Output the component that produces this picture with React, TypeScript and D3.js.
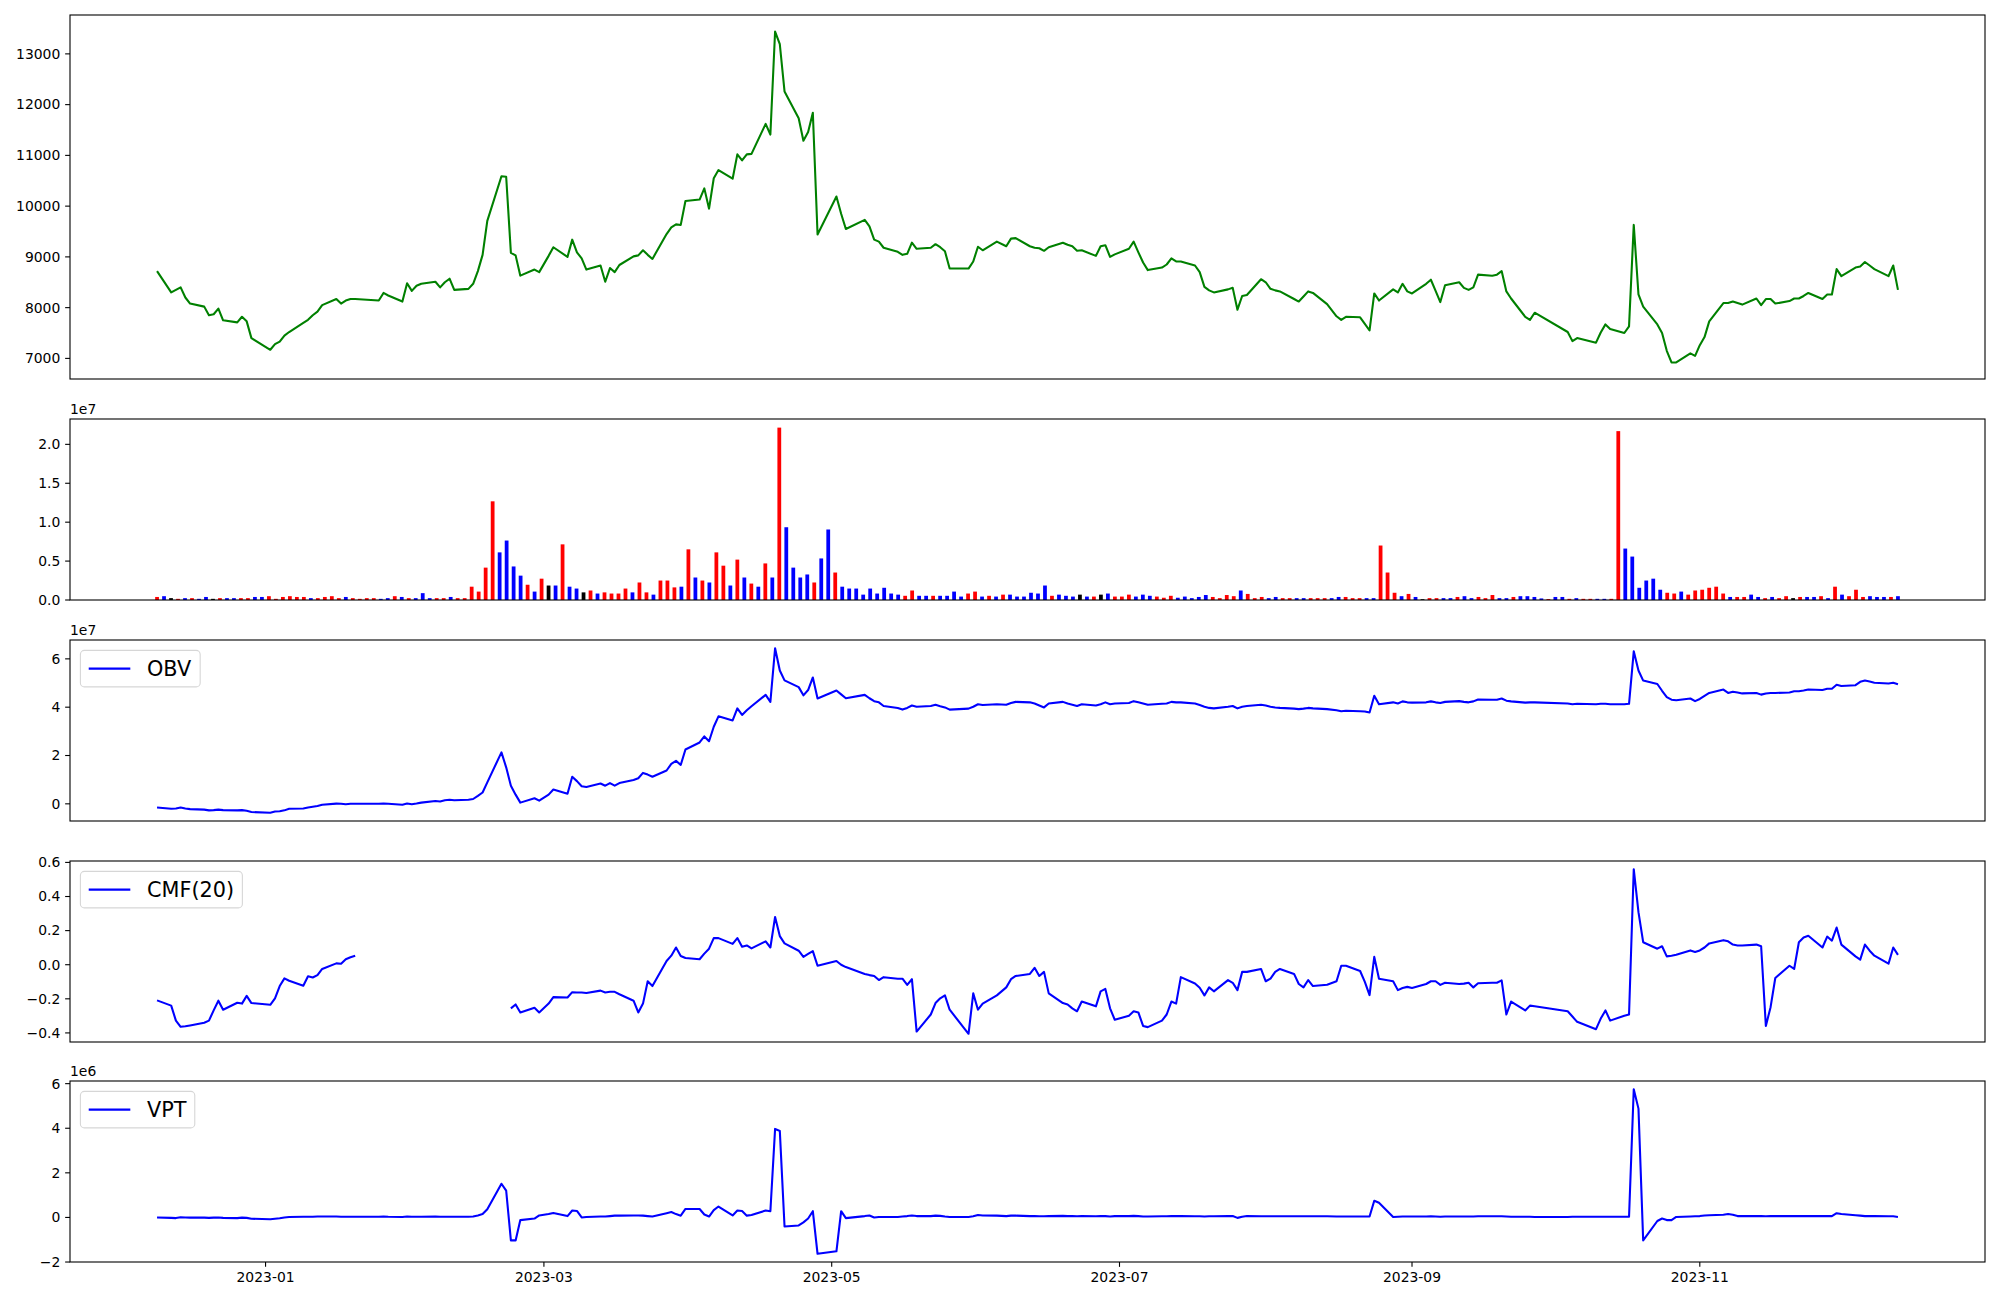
import React from 'react';
import * as d3 from 'd3';

// ---------- DATA ----------
const TRADING_DAYS: [string, number[]][] = [
  ['2022-12', [9, 12, 13, 14, 15, 16, 19, 20, 21, 22, 23, 26, 27, 28, 29]],
  ['2023-01', [2, 3, 4, 5, 6, 9, 10, 11, 12, 13, 16, 17, 18, 19, 20, 25, 26, 27, 30, 31]],
  ['2023-02', [1, 2, 3, 6, 7, 8, 9, 10, 13, 14, 15, 16, 17, 20, 21, 22, 23, 24, 27, 28]],
  ['2023-03', [2, 3, 6, 7, 8, 9, 10, 13, 14, 15, 16, 17, 20, 21, 22, 23, 24, 27, 28, 29, 30, 31]],
  ['2023-04', [3, 4, 5, 6, 7, 10, 11, 12, 13, 14, 17, 18, 19, 20, 21, 24, 25, 26, 27, 28]],
  ['2023-05', [2, 3, 4, 8, 9, 10, 11, 12, 15, 16, 17, 18, 19, 22, 23, 24, 25, 26, 30, 31]],
  ['2023-06', [1, 2, 5, 7, 8, 9, 12, 13, 14, 15, 16, 19, 20, 21, 22, 23, 26, 27, 28, 29, 30]],
  ['2023-07', [3, 4, 5, 6, 7, 10, 11, 12, 13, 14, 17, 18, 19, 20, 21, 24, 25, 26, 27, 28, 31]],
  ['2023-08', [1, 2, 3, 4, 7, 8, 9, 10, 11, 14, 16, 17, 18, 21, 22, 23, 24, 25, 28, 29, 30, 31]],
  ['2023-09', [1, 4, 5, 6, 7, 8, 11, 12, 13, 14, 15, 18, 19, 20, 21, 22, 25, 26, 27]],
  ['2023-10', [4, 5, 6, 10, 11, 12, 13, 16, 17, 18, 19, 20, 23, 24, 25, 26, 27, 30, 31]],
  ['2023-11', [1, 2, 3, 6, 7, 8, 9, 10, 13, 14, 15, 16, 17, 20, 21, 22, 23, 24, 27, 28, 29, 30]],
  ['2023-12', [1, 4, 5, 6, 7, 8, 11, 12, 13]],
];

const CLOSE: number[] = [
  8720, 8300, 8350, 8400, 8200, 8080, 8020, 7850, 7870, 7980, 7750, 7710, 7820, 7730, 7400,
  7170, 7280, 7330, 7450, 7520, 7700, 7760, 7850, 7920, 8050, 8170, 8080, 8140, 8170, 8170, 8140, 8290, 8240, 8120, 8480,
  8330, 8430, 8470, 8510, 8400, 8500, 8570, 8350, 8370, 8470, 8720, 9040, 9710, 10590, 10580, 9080, 9030, 8630, 8750, 8700,
  9020, 9190, 9000, 9340, 9090, 8970, 8750, 8830, 8510, 8780, 8700, 8840, 9010, 9030, 9130, 9040, 8960, 9450, 9580, 9640, 9630, 10100,
  10130, 10350, 9950, 10550, 10710, 10540, 11020, 10900, 11020, 11030, 11620, 11410, 13440, 13190, 12260, 11730, 11290, 11460, 11840, 9440,
  10190, 9850, 9550, 9730, 9600, 9340, 9300, 9180, 9100, 9040, 9060, 9280, 9160, 9180, 9250, 9190, 9110, 8770, 8770, 8910,
  9200, 9130, 9300, 9210, 9360, 9370, 9210, 9180, 9170, 9120, 9190, 9280, 9240, 9210, 9120, 9130, 9020, 9210, 9230, 9000, 9050,
  9160, 9300, 9090, 8890, 8740, 8790, 8850, 8970, 8910, 8910, 8830, 8700, 8410, 8340, 8300, 8360, 8390, 7960, 8230, 8250, 8560,
  8500, 8370, 8340, 8320, 8170, 8120, 8220, 8320, 8290, 8070, 7830, 7760, 7820, 7810, 7680, 7550, 8280, 8140, 8360, 8300, 8470, 8320,
  8280, 8470, 8550, 8330, 8110, 8440, 8500, 8390, 8350, 8400, 8650, 8630, 8650, 8720, 8320, 8180, 7820, 7760, 7900,
  7520, 7340, 7400, 7310, 7510, 7670, 7580, 7500, 7630, 9630, 8260, 8020, 7670, 7500, 7150, 6920, 6920, 7100, 7050,
  7260, 7420, 7730, 8090, 8090, 8120, 8090, 8060, 8180, 8050, 8170, 8170, 8080, 8130, 8180, 8180, 8230, 8290, 8170, 8260, 8260, 8760,
  8620, 8790, 8810, 8900, 8830, 8760, 8620, 8830, 8350,
];

// volume in millions of shares
const VOLUME_M: number[] = [
  0.39, 0.49, 0.24, 0.15, 0.24, 0.24, 0.15, 0.39, 0.15, 0.24, 0.24, 0.24, 0.24, 0.24, 0.39,
  0.39, 0.49, 0.15, 0.39, 0.49, 0.39, 0.39, 0.24, 0.24, 0.39, 0.49, 0.24, 0.39, 0.24, 0.15, 0.24, 0.24, 0.15, 0.24, 0.49,
  0.39, 0.24, 0.24, 0.88, 0.24, 0.24, 0.24, 0.39, 0.24, 0.24, 1.71, 1.08, 4.16, 12.68, 6.12, 7.64, 4.31, 3.13, 1.96, 1.08,
  2.74, 1.86, 1.86, 7.15, 1.71, 1.47, 0.98, 1.22, 0.83, 0.98, 0.83, 0.83, 1.47, 0.98, 2.25, 0.98, 0.69, 2.5, 2.5, 1.62, 1.71, 6.51,
  2.89, 2.5, 2.25, 6.12, 4.41, 1.86, 5.19, 2.89, 2.11, 1.71, 4.7, 2.89, 22.15, 9.35, 4.16, 2.89, 3.28, 2.25, 5.34, 9.06,
  3.53, 1.71, 1.47, 1.47, 0.69, 1.47, 0.83, 1.57, 0.83, 0.69, 0.54, 1.22, 0.54, 0.54, 0.54, 0.54, 0.54, 1.08, 0.44, 0.83,
  1.08, 0.44, 0.54, 0.44, 0.69, 0.69, 0.44, 0.44, 0.93, 0.83, 1.86, 0.54, 0.69, 0.54, 0.44, 0.69, 0.44, 0.44, 0.69, 0.83, 0.44,
  0.44, 0.69, 0.44, 0.69, 0.54, 0.44, 0.29, 0.54, 0.29, 0.44, 0.24, 0.39, 0.64, 0.39, 0.24, 0.64, 0.49, 1.22, 0.78, 0.24, 0.39,
  0.24, 0.39, 0.24, 0.24, 0.24, 0.24, 0.24, 0.24, 0.24, 0.24, 0.39, 0.39, 0.24, 0.24, 0.24, 0.24, 7.0, 3.53, 0.93, 0.49, 0.78, 0.39,
  0.1, 0.24, 0.24, 0.24, 0.24, 0.39, 0.49, 0.24, 0.39, 0.24, 0.64, 0.24, 0.24, 0.39, 0.49, 0.49, 0.39, 0.2, 0.12,
  0.39, 0.39, 0.15, 0.24, 0.15, 0.15, 0.15, 0.15, 0.15, 21.7, 6.61, 5.58, 1.57, 2.5, 2.74, 1.32, 0.93, 0.83, 1.08,
  0.69, 1.22, 1.32, 1.57, 1.71, 0.83, 0.39, 0.39, 0.39, 0.69, 0.39, 0.24, 0.39, 0.24, 0.49, 0.24, 0.39, 0.39, 0.39, 0.49, 0.24, 1.71,
  0.69, 0.49, 1.32, 0.39, 0.49, 0.39, 0.39, 0.39, 0.49,
];

// bar colour per day: r = up, b = down, k = unchanged
const VOLUME_DIR: string =
  'rbkrbrbbkrbbrrb' +
  'brrrrrrbrrrrbrrrrbbr' +
  'brbbbrrbrrrrrrbbbbrb' +
  'rkbrbbkrbrrrrbrrbrrrbr' +
  'brbrrbrbrbrbrbbbbrbb' +
  'rbbbbbbbbbrrbbrbbbbr' +
  'rbrbrbbbbbbrbbbkbrkbr' +
  'rrbbbrrrbbbbbrrrrbrrr' +
  'bbrrbbrrrbbrrrbbrrrbrb' +
  'krrbbrbbrrrbbrbbbbr' +
  'bbrbrrbbrrbbbbbbrrb' +
  'rrrrrrbrrbbrbrrkrbbrbr' +
  'brrrbbbrb';

// OBV in units of 1e7
const OBV_E7: number[] = [
  -0.15, -0.2, -0.19, -0.15, -0.19, -0.22, -0.24, -0.27, -0.26, -0.24, -0.26, -0.27, -0.26, -0.29, -0.34,
  -0.37, -0.32, -0.31, -0.27, -0.2, -0.19, -0.15, -0.12, -0.09, -0.04, 0.01, 0.0, -0.02, 0.0, 0.0, 0.0, 0.01, 0.0, -0.04, 0.01,
  -0.02, 0.01, 0.05, 0.12, 0.1, 0.15, 0.17, 0.15, 0.17, 0.2, 0.33, 0.47, 0.89, 2.13, 1.51, 0.75, 0.38, 0.05, 0.23, 0.13,
  0.38, 0.59, 0.42, 1.12, 0.94, 0.73, 0.7, 0.84, 0.75, 0.86, 0.75, 0.86, 0.99, 1.06, 1.28, 1.21, 1.12, 1.38, 1.65, 1.78, 1.61, 2.25,
  2.54, 2.79, 2.59, 3.19, 3.62, 3.45, 3.95, 3.68, 3.87, 4.04, 4.51, 4.22, 6.44, 5.52, 5.11, 4.83, 4.49, 4.71, 5.23, 4.36,
  4.69, 4.53, 4.37, 4.51, 4.37, 4.25, 4.2, 4.05, 3.97, 3.9, 3.97, 4.07, 4.02, 4.05, 4.1, 4.04, 3.99, 3.9, 3.94, 4.02,
  4.12, 4.09, 4.12, 4.1, 4.17, 4.22, 4.2, 4.15, 4.07, 3.99, 4.15, 4.22, 4.15, 4.1, 4.05, 4.12, 4.07, 4.12, 4.2, 4.12, 4.15,
  4.17, 4.25, 4.2, 4.15, 4.1, 4.14, 4.15, 4.22, 4.2, 4.2, 4.15, 4.09, 4.02, 3.97, 3.95, 4.02, 4.05, 3.95, 4.02, 4.05, 4.1,
  4.07, 4.02, 3.99, 3.97, 3.94, 3.92, 3.94, 3.97, 3.95, 3.92, 3.87, 3.83, 3.85, 3.83, 3.82, 3.78, 4.47, 4.12, 4.2, 4.15, 4.24, 4.2,
  4.19, 4.2, 4.24, 4.2, 4.17, 4.22, 4.25, 4.22, 4.2, 4.24, 4.32, 4.31, 4.31, 4.36, 4.27, 4.24, 4.19, 4.2, 4.2,
  4.15, 4.12, 4.14, 4.12, 4.14, 4.14, 4.12, 4.12, 4.14, 6.31, 5.52, 5.1, 4.96, 4.68, 4.42, 4.31, 4.29, 4.36, 4.25,
  4.34, 4.47, 4.59, 4.73, 4.59, 4.64, 4.61, 4.57, 4.59, 4.52, 4.57, 4.59, 4.59, 4.61, 4.66, 4.66, 4.69, 4.73, 4.71, 4.76, 4.76, 4.93,
  4.88, 4.91, 5.05, 5.1, 5.06, 5.01, 4.98, 5.01, 4.95,
];

// Chaikin money flow, 20 days (null = not defined)
const CMF20: (number | null)[] = [
  -0.209, -0.24, -0.328, -0.364, -0.361, -0.356, -0.34, -0.328, -0.268, -0.211, -0.264, -0.223, -0.228, -0.183, -0.225,
  -0.235, -0.197, -0.125, -0.08, -0.094, -0.123, -0.068, -0.075, -0.061, -0.025, 0.008, 0.006, 0.032, 0.044, 0.053, null, null, null, null, null,
  null, null, null, null, null, null, null, null, null, null, null, null, null, null, null, -0.256, -0.233, -0.28, -0.252, -0.28,
  -0.228, -0.19, -0.192, -0.161, -0.163, -0.163, -0.166, -0.152, -0.163, -0.159, -0.159, -0.173, -0.211, -0.28, -0.228, -0.097, -0.125, 0.022, 0.053, 0.101, 0.051, 0.039,
  0.032, 0.065, 0.094, 0.156, 0.156, 0.122, 0.156, 0.106, 0.113, 0.096, 0.137, 0.101, 0.28, 0.168, 0.125, 0.082, 0.046, 0.063, 0.08, -0.006,
  0.022, 0.0, -0.014, -0.054, -0.061, -0.066, -0.09, -0.073, -0.082, -0.082, -0.118, -0.085, -0.392, -0.292, -0.225, -0.197, -0.18, -0.264, -0.405, -0.168,
  -0.264, -0.228, -0.18, -0.133, -0.085, -0.066, -0.054, -0.018, -0.066, -0.042, -0.168, -0.225, -0.233, -0.256, -0.273, -0.216, -0.244, -0.156, -0.142, -0.256, -0.323,
  -0.299, -0.273, -0.28, -0.359, -0.366, -0.328, -0.292, -0.216, -0.228, -0.073, -0.11, -0.135, -0.18, -0.133, -0.156, -0.09, -0.106, -0.149, -0.042, -0.042, -0.025,
  -0.097, -0.082, -0.042, -0.025, -0.054, -0.113, -0.133, -0.09, -0.125, -0.118, -0.097, -0.006, -0.006, -0.037, -0.101, -0.178, 0.046, -0.082, -0.097, -0.149, -0.137, -0.13,
  -0.137, -0.113, -0.097, -0.097, -0.118, -0.106, -0.113, -0.111, -0.106, -0.133, -0.109, -0.106, -0.106, -0.092, -0.292, -0.216, -0.268, -0.24, -0.244,
  -0.273, -0.304, -0.335, -0.378, -0.316, -0.268, -0.328, -0.299, -0.292, 0.56, 0.308, 0.132, 0.094, 0.108, 0.049, 0.053, 0.058, 0.084, 0.075,
  0.084, 0.101, 0.125, 0.144, 0.137, 0.118, 0.113, 0.113, 0.118, 0.108, -0.359, -0.249, -0.078, -0.006, -0.025, 0.132, 0.16, 0.17, 0.101, 0.165, 0.141, 0.218,
  0.118, 0.049, 0.03, 0.118, 0.082, 0.053, 0.006, 0.101, 0.058,
];

// volume price trend in units of 1e6
const VPT_E6: number[] = [
  0.0, -0.02, -0.03, 0.01, 0.0, -0.01, -0.01, -0.02, -0.01, 0.0, -0.02, -0.03, -0.01, -0.02, -0.06,
  -0.08, -0.06, -0.04, 0.0, 0.02, 0.03, 0.03, 0.03, 0.04, 0.04, 0.04, 0.03, 0.03, 0.03, 0.03, 0.03, 0.04, 0.03, 0.02, 0.04,
  0.03, 0.03, 0.03, 0.04, 0.03, 0.03, 0.03, 0.03, 0.03, 0.04, 0.09, 0.15, 0.37, 1.51, 1.2, -1.03, -1.03, -0.12, -0.05, 0.09,
  0.15, 0.2, 0.06, 0.31, 0.29, 0.0, 0.02, 0.04, 0.04, 0.06, 0.08, 0.08, 0.09, 0.09, 0.08, 0.06, 0.04, 0.19, 0.24, 0.15, 0.08, 0.38,
  0.38, 0.13, 0.04, 0.33, 0.49, 0.09, 0.31, 0.29, 0.08, 0.11, 0.31, 0.28, 3.97, 3.88, -0.41, -0.36, -0.22, -0.05, 0.28, -1.63,
  -1.52, 0.28, -0.03, 0.06, 0.09, 0.0, 0.02, 0.02, 0.02, 0.04, 0.06, 0.09, 0.06, 0.06, 0.08, 0.07, 0.04, 0.02, 0.02, 0.05,
  0.11, 0.09, 0.08, 0.06, 0.08, 0.08, 0.06, 0.06, 0.05, 0.05, 0.06, 0.07, 0.06, 0.06, 0.05, 0.06, 0.05, 0.06, 0.06, 0.04, 0.06,
  0.06, 0.07, 0.06, 0.04, 0.04, 0.05, 0.05, 0.06, 0.06, 0.06, 0.05, 0.05, 0.04, 0.05, 0.05, 0.06, 0.06, -0.02, 0.03, 0.06, 0.05,
  0.05, 0.05, 0.05, 0.05, 0.05, 0.05, 0.05, 0.05, 0.05, 0.05, 0.04, 0.04, 0.04, 0.04, 0.04, 0.04, 0.75, 0.66, 0.02, 0.03, 0.04, 0.04,
  0.04, 0.04, 0.05, 0.04, 0.03, 0.04, 0.04, 0.04, 0.04, 0.04, 0.05, 0.05, 0.05, 0.05, 0.04, 0.03, 0.03, 0.03, 0.02,
  0.02, 0.03, 0.03, 0.03, 0.03, 0.03, 0.03, 0.03, 0.03, 5.75, 4.88, -1.03, -0.16, -0.05, -0.12, -0.12, 0.02, 0.04, 0.05,
  0.06, 0.09, 0.1, 0.12, 0.15, 0.12, 0.06, 0.06, 0.06, 0.06, 0.05, 0.06, 0.06, 0.06, 0.06, 0.06, 0.06, 0.06, 0.06, 0.06, 0.06, 0.19,
  0.15, 0.1, 0.08, 0.06, 0.06, 0.06, 0.05, 0.05, 0.02,
];

const PRICE_TICKS = [7000, 8000, 9000, 10000, 11000, 12000, 13000];
const VOLUME_TICKS = [0, 0.5e7, 1.0e7, 1.5e7, 2.0e7];
const OBV_TICKS = [0, 2e7, 4e7, 6e7];
const CMF_TICKS = [-0.4, -0.2, 0, 0.2, 0.4, 0.6];
const VPT_TICKS = [-2e6, 0, 2e6, 4e6, 6e6];

// ---------- STYLE / LAYOUT ----------
const W = 2000;
const H = 1300;
const LEFT = 70;
const RIGHT = 1985;
const FONT = 'DejaVu Sans, Liberation Sans, sans-serif';
const TICK_FS = 13.9;
const LEG_FS = 20.8;
const TICK_LEN = 4.86;
const PAD = 4.86;
const BAR_COLORS: Record<string, string> = { r: '#ff0000', b: '#0000ff', k: '#000000' };

const fmtMinus = (s: string) => s.replace('-', '\u2212');

function padDomain(vals: number[]): [number, number] {
  const [a, b] = d3.extent(vals) as [number, number];
  const r = b - a;
  return [a - 0.05 * r, b + 0.05 * r];
}

export default function App() {
  const dates = TRADING_DAYS.flatMap(([ym, days]) =>
    days.map((d) => new Date(`${ym}-${String(d).padStart(2, '0')}T00:00:00`))
  );
  const n = dates.length;
  const t0 = +dates[0];
  const t1 = +dates[n - 1];
  const span = t1 - t0;
  const x = d3
    .scaleTime()
    .domain([new Date(t0 - 0.05 * span), new Date(t1 + 0.05 * span)])
    .range([LEFT, RIGHT]);
  const barX = (i: number) => x(new Date(t0 + (i * span) / (n - 1)));
  const dayMs = 86400000;
  const barW = x(new Date(t0 + 0.8 * dayMs)) - x(new Date(t0));

  const volume = VOLUME_M.map((v) => v * 1e6);
  const obv = OBV_E7.map((v) => v * 1e7);
  const vpt = VPT_E6.map((v) => v * 1e6);

  const panels = [
    { top: 15, bottom: 379 },
    { top: 419, bottom: 600 },
    { top: 640, bottom: 821 },
    { top: 861, bottom: 1042 },
    { top: 1081, bottom: 1262 },
  ];

  const yPrice = d3.scaleLinear().domain(padDomain(CLOSE)).range([panels[0].bottom, panels[0].top]);
  const yVol = d3
    .scaleLinear()
    .domain([0, (d3.max(volume) as number) * 1.05])
    .range([panels[1].bottom, panels[1].top]);
  const yObv = d3.scaleLinear().domain(padDomain(obv)).range([panels[2].bottom, panels[2].top]);
  const cmfVals = CMF20.filter((v) => v != null) as number[];
  const yCmf = d3.scaleLinear().domain(padDomain(cmfVals)).range([panels[3].bottom, panels[3].top]);
  const yVpt = d3.scaleLinear().domain(padDomain(vpt)).range([panels[4].bottom, panels[4].top]);

  const mkLine = (y: d3.ScaleLinear<number, number>) =>
    d3
      .line<number | null>()
      .defined((d) => d != null)
      .x((_, i) => x(dates[i]))
      .y((d) => y(d as number));

  const xTicks = x.ticks(d3.timeMonth.every(2) as any);
  const xFmt = d3.timeFormat('%Y-%m');

  const yAxis = (
    key: string,
    y: d3.ScaleLinear<number, number>,
    ticks: number[],
    fmt: (v: number) => string
  ) => (
    <g key={key}>
      {ticks.map((t) => {
        const yy = y(t);
        return (
          <g key={t}>
            <line x1={LEFT - TICK_LEN} x2={LEFT} y1={yy} y2={yy} stroke="#000" strokeWidth={1.1} />
            <text
              x={LEFT - TICK_LEN - PAD}
              y={yy}
              dy="0.35em"
              textAnchor="end"
              fontFamily={FONT}
              fontSize={TICK_FS}
              fill="#000"
            >
              {fmt(t)}
            </text>
          </g>
        );
      })}
    </g>
  );

  const frame = (p: { top: number; bottom: number }, key: string) => (
    <rect
      key={key}
      x={LEFT}
      y={p.top}
      width={RIGHT - LEFT}
      height={p.bottom - p.top}
      fill="none"
      stroke="#000"
      strokeWidth={1.1}
    />
  );

  const offsetText = (p: { top: number }, label: string, key: string) => (
    <text key={key} x={LEFT} y={p.top - 5} fontFamily={FONT} fontSize={TICK_FS} fill="#000">
      {label}
    </text>
  );

  const legend = (p: { top: number }, label: string, textW: number, key: string) => {
    const bx = LEFT + 0.5 * LEG_FS;
    const by = p.top + 0.5 * LEG_FS;
    const bw = 3.6 * LEG_FS + textW;
    const bh = 36.5;
    const cy = by + bh / 2;
    const hx0 = bx + 0.4 * LEG_FS;
    const hx1 = hx0 + 2.0 * LEG_FS;
    return (
      <g key={key}>
        <rect
          x={bx}
          y={by}
          width={bw}
          height={bh}
          rx={4}
          ry={4}
          fill="#ffffff"
          fillOpacity={0.8}
          stroke="#cccccc"
          strokeOpacity={0.8}
          strokeWidth={1.1}
        />
        <line x1={hx0} x2={hx1} y1={cy} y2={cy} stroke="#0000ff" strokeWidth={2.08} />
        <text
          x={hx1 + 0.8 * LEG_FS}
          y={cy}
          dy="0.36em"
          fontFamily={FONT}
          fontSize={LEG_FS}
          fill="#000"
        >
          {label}
        </text>
      </g>
    );
  };

  const clip = (p: { top: number; bottom: number }, id: string) => (
    <clipPath id={id} key={id}>
      <rect x={LEFT} y={p.top} width={RIGHT - LEFT} height={p.bottom - p.top} />
    </clipPath>
  );

  return (
    <svg
      width={W}
      height={H}
      style={{ position: 'absolute', left: 0, top: 0, background: '#fff' }}
      xmlns="http://www.w3.org/2000/svg"
    >
      <rect x={0} y={0} width={W} height={H} fill="#fff" />
      <defs>{panels.map((p, i) => clip(p, `clip${i}`))}</defs>

      {/* Panel 1: price */}
      <path
        d={mkLine(yPrice)(CLOSE) || ''}
        fill="none"
        stroke="#008000"
        strokeWidth={2.08}
        strokeLinejoin="round"
        clipPath="url(#clip0)"
      />
      {yAxis('ya0', yPrice, PRICE_TICKS, (v) => String(v))}

      {/* Panel 2: volume bars */}
      <g clipPath="url(#clip1)">
        {volume.map((v, i) => (
          <rect
            key={i}
            x={barX(i) - barW / 2}
            y={yVol(v)}
            width={barW}
            height={yVol(0) - yVol(v)}
            fill={BAR_COLORS[VOLUME_DIR[i]] || '#000'}
          />
        ))}
      </g>
      {yAxis('ya1', yVol, VOLUME_TICKS, (v) => (v / 1e7).toFixed(1))}
      {offsetText(panels[1], '1e7', 'o1')}

      {/* Panel 3: OBV */}
      <path
        d={mkLine(yObv)(obv) || ''}
        fill="none"
        stroke="#0000ff"
        strokeWidth={2.08}
        strokeLinejoin="round"
        clipPath="url(#clip2)"
      />
      {yAxis('ya2', yObv, OBV_TICKS, (v) => String(Math.round(v / 1e7)))}
      {offsetText(panels[2], '1e7', 'o2')}

      {/* Panel 4: CMF */}
      <path
        d={mkLine(yCmf)(CMF20) || ''}
        fill="none"
        stroke="#0000ff"
        strokeWidth={2.08}
        strokeLinejoin="round"
        clipPath="url(#clip3)"
      />
      {yAxis('ya3', yCmf, CMF_TICKS, (v) => fmtMinus(v.toFixed(1)))}

      {/* Panel 5: VPT */}
      <path
        d={mkLine(yVpt)(vpt) || ''}
        fill="none"
        stroke="#0000ff"
        strokeWidth={2.08}
        strokeLinejoin="round"
        clipPath="url(#clip4)"
      />
      {yAxis('ya4', yVpt, VPT_TICKS, (v) => fmtMinus(String(Math.round(v / 1e6))))}
      {offsetText(panels[4], '1e6', 'o4')}

      {/* X axis on bottom panel */}
      {xTicks.map((t, i) => {
        const xx = x(t);
        return (
          <g key={`xt${i}`}>
            <line
              x1={xx}
              x2={xx}
              y1={panels[4].bottom}
              y2={panels[4].bottom + TICK_LEN}
              stroke="#000"
              strokeWidth={1.1}
            />
            <text
              x={xx}
              y={panels[4].bottom + TICK_LEN + PAD}
              dy="0.76em"
              textAnchor="middle"
              fontFamily={FONT}
              fontSize={TICK_FS}
              fill="#000"
            >
              {xFmt(t)}
            </text>
          </g>
        );
      })}

      {panels.map((p, i) => frame(p, `f${i}`))}

      {legend(panels[2], 'OBV', 44.9, 'l2')}
      {legend(panels[3], 'CMF(20)', 87.1, 'l3')}
      {legend(panels[4], 'VPT', 39.5, 'l4')}
    </svg>
  );
}
